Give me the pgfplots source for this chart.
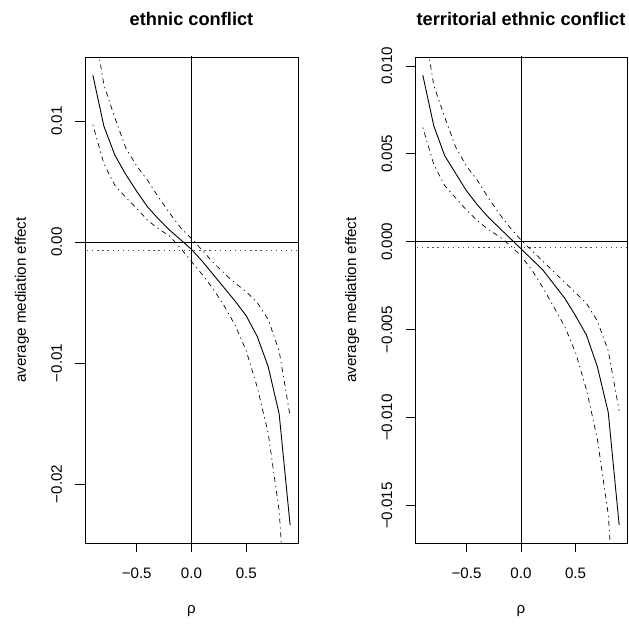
\documentclass[border=0pt]{standalone}
\usepackage{fontspec}
\setmainfont{Liberation Sans}
\usepackage{pgfplots}
\usepackage{pgfplotstable}
\pgfplotsset{compat=1.18}

\pgfplotstableread{
rho est lo hi
-0.9 0.0138 0.0097 0.0185
-0.8 0.0096 0.0065 0.0130
-0.7 0.0072 0.0047 0.0103
-0.6 0.0056 0.0037 0.0078
-0.5 0.0042 0.0028 0.0063
-0.4 0.0029 0.0018 0.0051
-0.3 0.0019 0.0011 0.0037
-0.2 0.0010 0.0005 0.0024
-0.1 0.0002 -0.0005 0.0012
0.0 -0.0006 -0.0016 0.0003
0.1 -0.0016 -0.0027 -0.0007
0.2 -0.0027 -0.0039 -0.0017
0.3 -0.0038 -0.0053 -0.0026
0.4 -0.0049 -0.0069 -0.0034
0.5 -0.0061 -0.0090 -0.0041
0.6 -0.0078 -0.0120 -0.0050
0.7 -0.0103 -0.0158 -0.0064
0.8 -0.0142 -0.0222 -0.0090
0.9 -0.0234 -0.0360 -0.0144
}\tabA

\pgfplotstableread{
rho est lo hi
-0.9 0.00947 0.0065 0.0127
-0.8 0.0066 0.0044 0.0089
-0.7 0.0049 0.0032 0.0071
-0.6 0.0039 0.0025 0.0054
-0.5 0.0029 0.0018 0.0043
-0.4 0.0021 0.0012 0.0035
-0.3 0.0014 0.0007 0.0025
-0.2 0.0008 0.0003 0.0016
-0.1 0.0002 -0.0002 0.0008
0.0 -0.0004 -0.0008 0.0001
0.1 -0.0010 -0.0016 -0.0005
0.2 -0.0016 -0.0026 -0.0011
0.3 -0.0024 -0.0037 -0.0017
0.4 -0.0032 -0.0048 -0.0023
0.5 -0.0042 -0.0063 -0.0029
0.6 -0.0053 -0.0084 -0.0035
0.7 -0.0071 -0.0112 -0.0045
0.8 -0.0097 -0.0155 -0.0062
0.9 -0.0161 -0.0250 -0.0096
}\tabB

\pgfplotsset{
  medstyle/.style={
    scale only axis, width=212bp, height=486bp,
    anchor=south west,
    xmin=-0.972, xmax=0.972,
    scaled x ticks=false, scaled y ticks=false,
    axis line style={black, line width=0.8bp},
    tick style={black, line width=0.8bp},
    tick align=outside, major tick length=9.5bp,
    xtick pos=bottom, ytick pos=left,
    xtick={-0.5,0,0.5}, xticklabels={−0.5,0.0,0.5},
    every tick label/.append style={font=\fontsize{15.2}{18}\selectfont},
    xticklabel style={anchor=base, yshift=-26bp},
    yticklabel style={xshift=-13.5bp, rotate=90, anchor=base},
    title style={at={(0.5,1)}, anchor=base, yshift=26bp, font=\bfseries\fontsize{18.3}{22}\selectfont},
    every axis x label/.style={at={(axis description cs:0.5,0)}, anchor=base, yshift=-71bp, font=\fontsize{15.2}{18}\selectfont},
    every axis y label/.style={at={(axis description cs:0,0.5)}, xshift=-59bp, rotate=90, anchor=base, font=\fontsize{15.2}{18}\selectfont},
    xlabel={ρ}, ylabel={average mediation effect},
    ci/.style={black, line width=0.7bp, dash pattern=on 1.3bp off 3.8bp on 5bp off 3.8bp},
  },
}

\begin{document}
\begin{tikzpicture}
\path[use as bounding box] (0,0) rectangle (629bp,625bp);
\begin{axis}[medstyle, at={(85bp,82bp)}, width=213bp,
  ymin=-0.02488, ymax=0.01531,
  ytick={-0.02,-0.01,0,0.01}, yticklabels={−0.02,−0.01,0.00,0.01},
  title={ethnic conflict}]
  \addplot[black, line width=0.8bp] coordinates {(-1,0) (1,0)};
  \addplot[black, line width=0.8bp] coordinates {(0,-0.03) (0,0.02)};
  \addplot[black!70, line width=0.8bp, dash pattern=on 1.3bp off 3.8bp] coordinates {(-1,-0.00065) (1,-0.00065)};
  \addplot[black, line width=0.9bp] table[x=rho, y=est] {\tabA};
  \addplot[ci] table[x=rho, y=lo] {\tabA};
  \addplot[ci] table[x=rho, y=hi] {\tabA};
\end{axis}
\begin{axis}[medstyle, at={(415bp,82bp)},
  ymin=-0.01713, ymax=0.01051,
  ytick={-0.015,-0.01,-0.005,0,0.005,0.01}, yticklabels={−0.015,−0.010,−0.005,0.000,0.005,0.010},
  title={territorial ethnic conflict}]
  \addplot[black, line width=0.8bp] coordinates {(-1,0) (1,0)};
  \addplot[black, line width=0.8bp] coordinates {(0,-0.03) (0,0.02)};
  \addplot[black!70, line width=0.8bp, dash pattern=on 1.3bp off 3.8bp] coordinates {(-1,-0.00034) (1,-0.00034)};
  \addplot[black, line width=0.9bp] table[x=rho, y=est] {\tabB};
  \addplot[ci] table[x=rho, y=lo] {\tabB};
  \addplot[ci] table[x=rho, y=hi] {\tabB};
\end{axis}
\end{tikzpicture}
\end{document}
